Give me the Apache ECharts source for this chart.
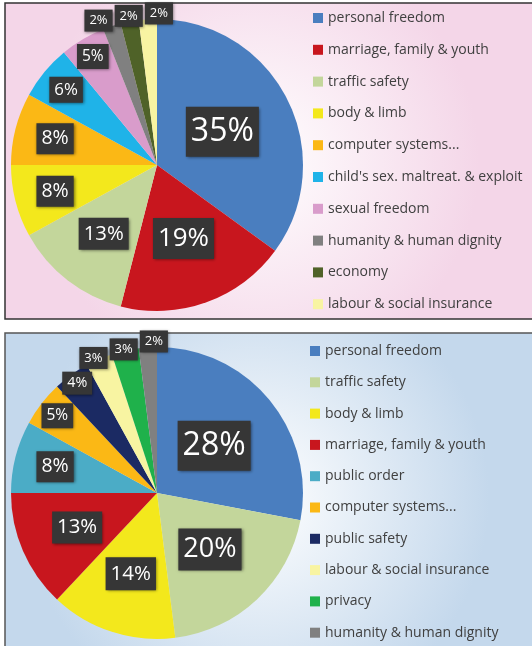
<!DOCTYPE html>
<html>
<head>
<meta charset="utf-8">
<script src="https://cdn.jsdelivr.net/npm/echarts@6/dist/echarts.min.js"></script>
<style>
  html, body { margin: 0; padding: 0; background: #fff; }
  #main { width: 532px; height: 646px; }
</style>
</head>
<body>
<div id="main"></div>
<script>
// top chart
const topNames = ['personal freedom', 'marriage, family & youth', 'traffic safety', 'body & limb',
  'computer systems...', "child's sex. maltreat. & exploit", 'sexual freedom',
  'humanity & human dignity', 'economy', 'labour & social insurance']
const topValues = [35, 19, 13, 8, 8, 6, 5, 2, 2, 2]

// bottom chart
const bottomNames = ['personal freedom', 'traffic safety', 'body & limb', 'marriage, family & youth',
  'public order', 'computer systems...', 'public safety', 'labour & social insurance',
  'privacy', 'humanity & human dignity']
const bottomValues = [28, 20, 14, 13, 8, 5, 4, 3, 3, 2]

const colors = {
  'personal freedom': '#4a7ebf',
  'marriage, family & youth': '#c8161e',
  'traffic safety': '#c3d69b',
  'body & limb': '#f3e81c',
  'computer systems...': '#fbb815',
  "child's sex. maltreat. & exploit": '#1fb3e8',
  'sexual freedom': '#d99ccb',
  'humanity & human dignity': '#808080',
  'economy': '#4f6228',
  'labour & social insurance': '#f8f4a2',
  'public order': '#4bacc6',
  'public safety': '#1b2a63',
  'privacy': '#1fb14b'
}

const R = 146
const centers = [[157, 165], [157, 493]]
const labelFont = 'Open Sans'

// callout font size grows with the slice, levelling off for the big ones
const sizeSteps = [[2, 13], [3, 13], [5, 15.5], [8, 19.5], [14, 20.5], [20, 27], [28, 32], [35, 32]]
function labelSize(v) {
  for (let i = 1; i < sizeSteps.length; i++) {
    const a = sizeSteps[i - 1], b = sizeSteps[i]
    if (v <= b[0]) return a[1] + (b[1] - a[1]) * (v - a[0]) / (b[0] - a[0])
  }
  return sizeSteps[sizeSteps.length - 1][1]
}
// bigger slices keep the label near the middle, small ones push it out to the rim
function labelRadius(v) {
  return Math.min(1.04, 0.5 + 0.6 * Math.exp(-(v - 2) / 6))
}

const measureCtx = document.createElement('canvas').getContext('2d')

// excel-like "best fit" spots for the callouts, then nudge apart the ones that collide
function labelSpots(values, c) {
  const total = values.reduce((a, b) => a + b, 0)
  let acc = 0
  const spots = values.map(v => {
    const mid = (acc + v / 2) / total * Math.PI * 2
    acc += v
    const r = R * labelRadius(v)
    const fs = labelSize(v)
    measureCtx.font = fs + 'px ' + labelFont
    const w = measureCtx.measureText(v + '%').width + 10
    const h = Math.round(fs * 1.2) + 2 * Math.round(fs * 0.2)
    return { x: c[0] + r * Math.sin(mid), y: c[1] - r * Math.cos(mid), w: w, h: h }
  })
  for (let it = 0; it < 30; it++) {
    for (let i = 0; i < spots.length; i++) {
      for (let j = i + 1; j < spots.length; j++) {
        const a = spots[i], b = spots[j]
        const ox = (a.w + b.w) / 2 + 2 - Math.abs(a.x - b.x)
        const oy = (a.h + b.h) / 2 - Math.abs(a.y - b.y)
        if (ox > 0 && oy > 0) {
          const s = a.x < b.x ? 1 : -1
          a.x -= s * ox / 2
          b.x += s * ox / 2
        }
      }
    }
  }
  return spots
}

function makeData(names, values) {
  return names.map((n, i) => {
    const fs = labelSize(values[i])
    const pv = Math.round(fs * 0.2)
    return {
      name: n,
      value: values[i],
      itemStyle: { color: colors[n] },
      label: {
        fontSize: fs,
        lineHeight: Math.round(fs * 1.2),
        padding: [pv, 5, pv, 5]
      }
    }
  })
}

function makePie(idx, names, values) {
  const spots = labelSpots(values, centers[idx])
  return {
    type: 'pie',
    center: centers[idx],
    radius: R,
    startAngle: 90,
    clockwise: true,
    avoidLabelOverlap: false,
    animation: false,
    itemStyle: { borderWidth: 0 },
    labelLine: { show: false },
    emphasis: { disabled: true },
    label: {
      show: true,
      position: 'inside',
      formatter: '{c}%',
      color: '#fff',
      fontFamily: labelFont,
      backgroundColor: '#363636',
      shadowBlur: 3,
      shadowColor: 'rgba(0,0,0,0.5)',
      shadowOffsetX: 1,
      shadowOffsetY: 1
    },
    labelLayout: function (p) {
      const s = spots[p.dataIndex]
      return { x: s.x, y: s.y, align: 'center', verticalAlign: 'middle' }
    },
    data: makeData(names, values)
  }
}

function makeLegend(names, left, top, gap) {
  return {
    orient: 'vertical',
    left: left,
    top: top,
    height: 330,
    icon: 'rect',
    itemWidth: 10,
    itemHeight: 10,
    itemGap: gap,
    selectedMode: false,
    textStyle: { color: '#404040', fontSize: 14, fontFamily: 'Open Sans', lineHeight: 16 },
    data: names
  }
}

const chart = echarts.init(document.getElementById('main'))
const option = {
  animation: false,
  graphic: [
    {
      type: 'rect', z: -10,
      shape: { x: 5, y: 3, width: 560, height: 316 },
      style: {
        fill: { type: 'radial', x: 0.45, y: 0.5, r: 0.7,
          colorStops: [{ offset: 0, color: '#ffffff' }, { offset: 1, color: '#f4d6e8' }] },
        stroke: '#333', lineWidth: 1.5
      }
    },
    {
      type: 'rect', z: -10,
      shape: { x: 5, y: 333, width: 560, height: 330 },
      style: {
        fill: { type: 'radial', x: 0.45, y: 0.5, r: 0.7,
          colorStops: [{ offset: 0, color: '#ffffff' }, { offset: 1, color: '#c4d8ec' }] },
        stroke: '#555', lineWidth: 1.5
      }
    }
  ],
  legend: [
    makeLegend(topNames, 308, 5, 15.8),
    makeLegend(bottomNames, 305, 338, 15.3)
  ],
  series: [
    makePie(0, topNames, topValues),
    makePie(1, bottomNames, bottomValues)
  ]
}
option && chart.setOption(option)
</script>
</body>
</html>
